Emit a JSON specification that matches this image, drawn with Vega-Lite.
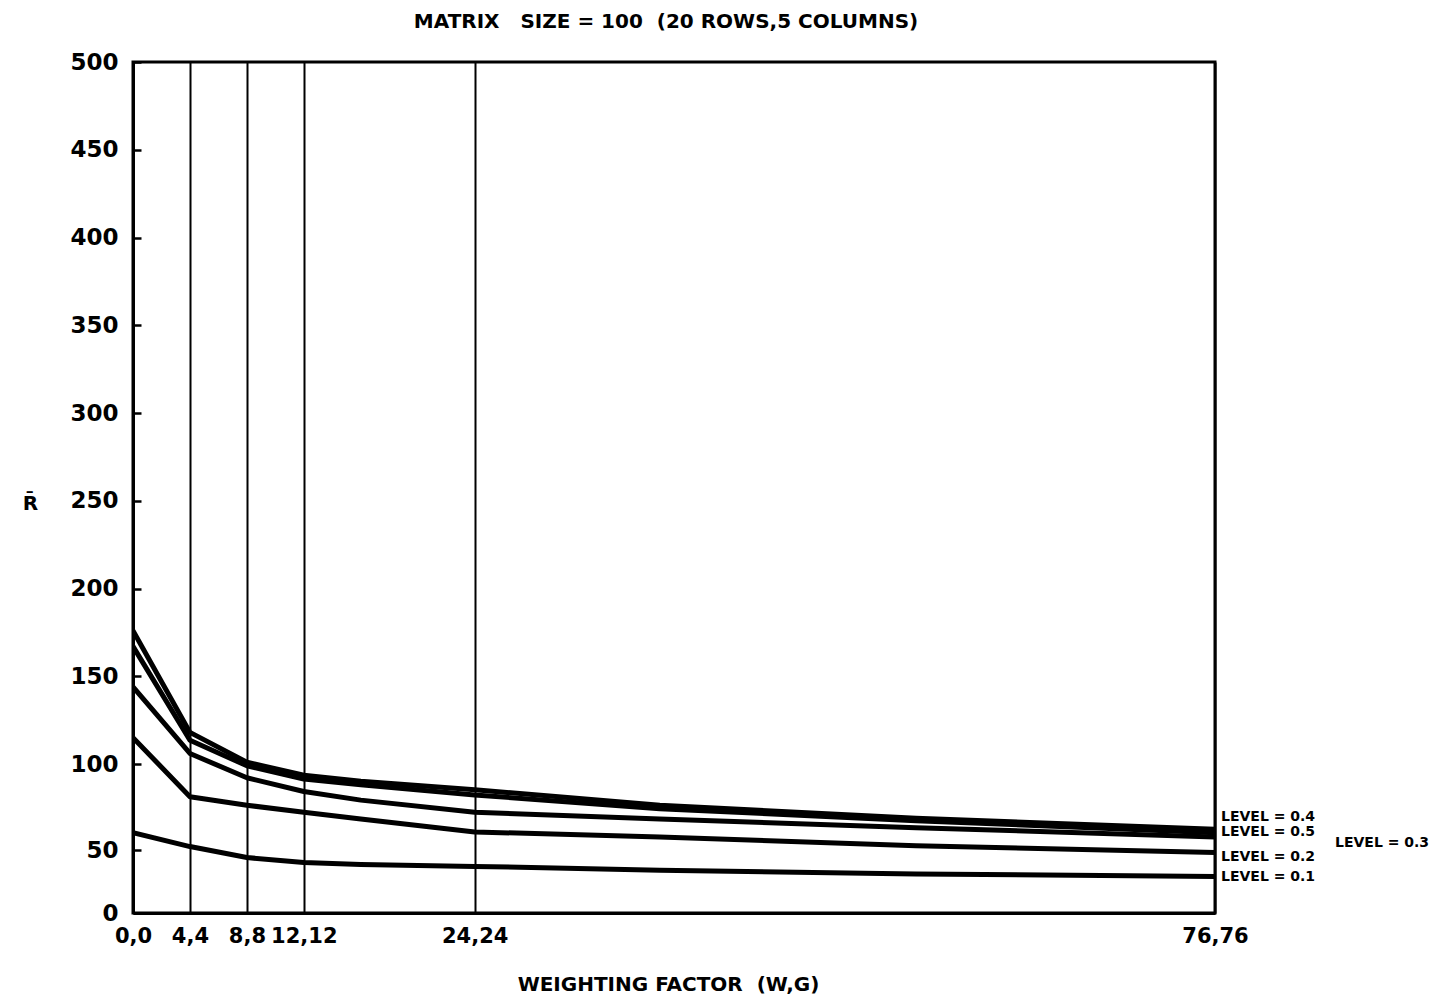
{
  "$schema": "https://vega.github.io/schema/vega-lite/v6.json",
  "width": 1082,
  "height": 851,
  "autosize": {"type": "none"},
  "padding": {"left": 133, "top": 62, "right": 237, "bottom": 87},
  "background": "white",
  "title": {
    "text": "MATRIX\u00a0\u00a0 SIZE = 100 \u00a0(20 ROWS,5 COLUMNS)",
    "font": "DejaVu Sans",
    "fontSize": 20,
    "fontWeight": "bold",
    "color": "black",
    "anchor": "middle",
    "offset": 19,
    "dx": -8
  },
  "config": {
    "view": {"stroke": "black", "strokeWidth": 3},
    "axis": {
      "domainColor": "black",
      "domainWidth": 3,
      "labelColor": "black",
      "titleColor": "black",
      "labelFont": "DejaVu Sans",
      "titleFont": "DejaVu Sans",
      "labelFontWeight": "bold",
      "titleFontWeight": "bold"
    }
  },
  "datasets": {
    "curves": [
      {"level": "0.4", "w": 0, "r": 176}, {"level": "0.4", "w": 4, "r": 118}, {"level": "0.4", "w": 8, "r": 101}, {"level": "0.4", "w": 12, "r": 93.5}, {"level": "0.4", "w": 16, "r": 90}, {"level": "0.4", "w": 24, "r": 85}, {"level": "0.4", "w": 37, "r": 76}, {"level": "0.4", "w": 55, "r": 68.5}, {"level": "0.4", "w": 76, "r": 62},
      {"level": "0.5", "w": 0, "r": 167}, {"level": "0.5", "w": 4, "r": 113.5}, {"level": "0.5", "w": 8, "r": 99}, {"level": "0.5", "w": 12, "r": 91.3}, {"level": "0.5", "w": 16, "r": 88}, {"level": "0.5", "w": 24, "r": 82}, {"level": "0.5", "w": 37, "r": 74}, {"level": "0.5", "w": 55, "r": 67}, {"level": "0.5", "w": 76, "r": 60},
      {"level": "0.3", "w": 0, "r": 144}, {"level": "0.3", "w": 4, "r": 106}, {"level": "0.3", "w": 8, "r": 92}, {"level": "0.3", "w": 12, "r": 84}, {"level": "0.3", "w": 16, "r": 79}, {"level": "0.3", "w": 24, "r": 72}, {"level": "0.3", "w": 37, "r": 68}, {"level": "0.3", "w": 55, "r": 63}, {"level": "0.3", "w": 76, "r": 57.5},
      {"level": "0.2", "w": 0, "r": 115}, {"level": "0.2", "w": 4, "r": 81}, {"level": "0.2", "w": 8, "r": 76}, {"level": "0.2", "w": 12, "r": 72}, {"level": "0.2", "w": 16, "r": 68}, {"level": "0.2", "w": 24, "r": 60.5}, {"level": "0.2", "w": 37, "r": 57.5}, {"level": "0.2", "w": 55, "r": 52.5}, {"level": "0.2", "w": 76, "r": 48},
      {"level": "0.1", "w": 0, "r": 60}, {"level": "0.1", "w": 4, "r": 52}, {"level": "0.1", "w": 8, "r": 44}, {"level": "0.1", "w": 12, "r": 40}, {"level": "0.1", "w": 16, "r": 38.5}, {"level": "0.1", "w": 24, "r": 37}, {"level": "0.1", "w": 37, "r": 34}, {"level": "0.1", "w": 55, "r": 31}, {"level": "0.1", "w": 76, "r": 29}
    ],
    "labels": [
      {"label": "LEVEL = 0.4", "w": 76, "r": 69.2, "far": false},
      {"label": "LEVEL = 0.5", "w": 76, "r": 60.5, "far": false},
      {"label": "LEVEL = 0.3", "w": 76, "r": 54, "far": true},
      {"label": "LEVEL = 0.2", "w": 76, "r": 44.4, "far": false},
      {"label": "LEVEL = 0.1", "w": 76, "r": 28.6, "far": false}
    ]
  },
  "layer": [
    {
      "data": {"name": "curves"},
      "mark": {"type": "line", "color": "black", "strokeWidth": 5, "strokeJoin": "round", "strokeCap": "round", "clip": true},
      "encoding": {
        "x": {
          "field": "w",
          "type": "quantitative",
          "scale": {"domain": [0, 76], "nice": false, "zero": false},
          "axis": {
            "values": [0, 4, 8, 12, 24, 76],
            "labelExpr": "datum.value + ',' + datum.value",
            "grid": true,
            "gridColor": "black",
            "gridWidth": 2,
            "gridOpacity": 1,
            "ticks": false,
            "labelPadding": 12,
            "labelFontSize": 21,
            "title": "WEIGHTING FACTOR \u00a0(W,G)",
            "titleFontSize": 20,
            "titlePadding": 28,
            "titleX": 535,
            "labelFlush": false
          }
        },
        "y": {
          "field": "r",
          "type": "quantitative",
          "scale": {"domain": [0, 50, 100, 500], "range": [851, 788, 702, 0], "nice": false, "zero": false},
          "axis": {
            "values": [0, 50, 100, 150, 200, 250, 300, 350, 400, 450, 500],
            "grid": false,
            "ticks": true,
            "tickSize": -8,
            "tickWidth": 2.5,
            "tickColor": "black",
            "labelPadding": 23,
            "labelFontSize": 23,
            "title": "R\u0304",
            "titleAngle": 0,
            "titleFontSize": 20,
            "titleX": -103,
            "titleY": 441,
            "titleAlign": "center",
            "titleBaseline": "middle"
          }
        },
        "detail": {"field": "level", "type": "nominal"}
      }
    },
    {
      "data": {"name": "labels"},
      "transform": [{"filter": "!datum.far"}],
      "mark": {"type": "text", "align": "left", "baseline": "middle", "dx": 6, "font": "DejaVu Sans", "fontSize": 14, "fontWeight": "bold", "color": "black"},
      "encoding": {
        "x": {"field": "w", "type": "quantitative"},
        "y": {"field": "r", "type": "quantitative"},
        "text": {"field": "label"}
      }
    },
    {
      "data": {"name": "labels"},
      "transform": [{"filter": "datum.far"}],
      "mark": {"type": "text", "align": "left", "baseline": "middle", "dx": 120, "font": "DejaVu Sans", "fontSize": 14, "fontWeight": "bold", "color": "black"},
      "encoding": {
        "x": {"field": "w", "type": "quantitative"},
        "y": {"field": "r", "type": "quantitative"},
        "text": {"field": "label"}
      }
    }
  ]
}
